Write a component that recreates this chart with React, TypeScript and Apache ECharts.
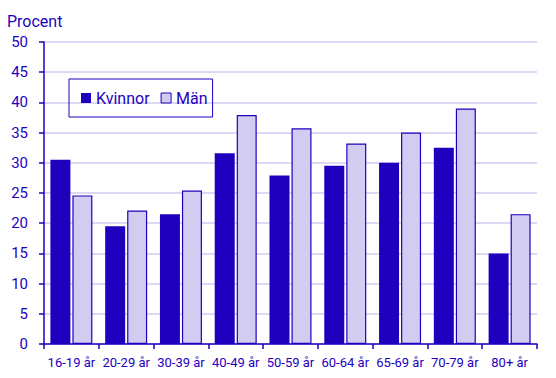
import React, { useEffect, useRef } from "react";
import * as echarts from "echarts";

const categories = ["16-19 år", "20-29 år", "30-39 år", "40-49 år", "50-59 år", "60-64 år", "65-69 år", "70-79 år", "80+ år"];
const kvinnor = [30.5, 19.5, 21.5, 31.6, 27.9, 29.5, 30.0, 32.5, 15.0];
const man = [24.6, 22.1, 25.4, 37.9, 35.7, 33.2, 35.0, 39.0, 21.5];
const seriesNames = ["Kvinnor", "Män"];
const yTitle = "Procent";

const BLUE = "#1f00bf";
const LIGHT = "#d2cdf0";
const FONT = "Roboto";

export default function App() {
  const ref = useRef<HTMLDivElement>(null);
  useEffect(() => {
    if (!ref.current) return;
    const chart = echarts.init(ref.current, undefined, { renderer: "svg" });
    chart.setOption({
      animation: false,
      textStyle: { fontFamily: FONT, color: BLUE },
      grid: { left: 44, right: 19, top: 42, bottom: 34, containLabel: false },
      graphic: [
        {
          type: "text",
          left: 7,
          top: 13,
          style: { text: yTitle, fill: BLUE, font: `16px ${FONT}` },
        },
      ],
      legend: {
        left: 69,
        top: 79,
        orient: "horizontal",
        itemWidth: 10,
        itemHeight: 10,
        itemGap: 11,
        padding: [11, 5, 11, 12],
        borderColor: BLUE,
        borderWidth: 1,
        textStyle: { fontFamily: FONT, fontSize: 16, color: BLUE },
        data: [
          { name: seriesNames[0], icon: "rect" },
          { name: seriesNames[1], icon: "rect", itemStyle: { color: LIGHT, borderColor: BLUE, borderWidth: 1 } },
        ],
      },
      xAxis: {
        type: "category",
        data: categories,
        axisLine: { lineStyle: { color: BLUE, width: 1.5 } },
        axisTick: { show: true, length: 5, lineStyle: { color: BLUE, width: 1.5 } },
        axisLabel: { color: BLUE, fontSize: 13, fontFamily: FONT, margin: 12, interval: 0 },
      },
      yAxis: {
        type: "value",
        min: 0,
        max: 50,
        interval: 5,
        axisLine: { show: true, lineStyle: { color: BLUE, width: 1.5 } },
        axisTick: { show: true, length: 5, lineStyle: { color: BLUE, width: 1.5 } },
        axisLabel: { color: BLUE, fontSize: 15, fontFamily: FONT, margin: 16 },
        splitLine: { lineStyle: { color: LIGHT, width: 1.5 } },
      },
      series: [
        {
          name: seriesNames[0],
          type: "bar",
          data: kvinnor,
          barWidth: 20,
          barGap: "10%",
          itemStyle: { color: BLUE },
        },
        {
          name: seriesNames[1],
          type: "bar",
          data: man,
          barWidth: 20,
          barGap: "10%",
          itemStyle: { color: LIGHT, borderColor: BLUE, borderWidth: 1.2 },
        },
      ],
    });
    return () => chart.dispose();
  }, []);
  return <div ref={ref} style={{ width: 556, height: 378, position: "absolute", left: 0, top: 0 }} />;
}
